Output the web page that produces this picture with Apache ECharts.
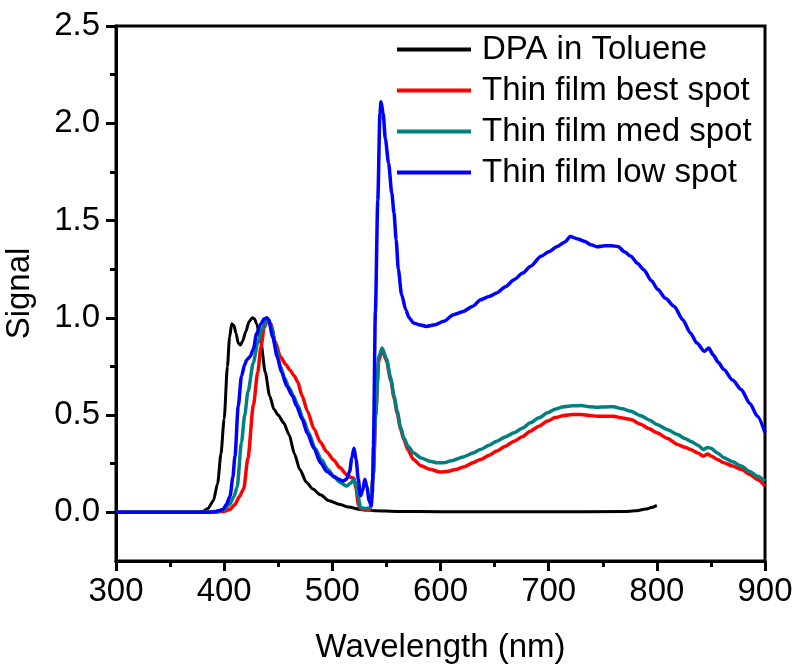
<!DOCTYPE html>
<html>
<head>
<meta charset="utf-8">
<script src="https://cdn.jsdelivr.net/npm/echarts@6/dist/echarts.min.js"></script>
<style>
    html, body { margin: 0; padding: 0; background: #fff; }
    #chart0 { width: 797px; height: 667px; }
</style>
</head>
<body>
<div id="chart0"></div>
<script>
// values
var seriesNames = ['DPA in Toluene', 'Thin film best spot', 'Thin film med spot', 'Thin film low spot'];
var seriesColors = ['#000000', '#ff0000', '#008080', '#0000ff'];

var dpaWl = [300, 370, 380, 385, 390, 394, 397, 400, 403, 405, 407, 409, 411, 413, 415, 417, 420, 423, 426, 428,
    430, 434, 438, 442, 446, 450, 455, 460, 465, 470, 476, 482, 489, 497, 507, 515, 526, 540, 560, 600,
    700, 770, 780, 790, 795, 800];
var dpaSig = [0, 0, 0.005, 0.02, 0.06, 0.15, 0.3, 0.48, 0.75, 0.9, 0.97, 0.96, 0.92, 0.87, 0.86, 0.88, 0.93, 0.98, 1.0, 0.995,
    0.97, 0.87, 0.72, 0.6, 0.53, 0.5, 0.46, 0.4, 0.3, 0.22, 0.155, 0.12, 0.09, 0.06, 0.04, 0.027, 0.015, 0.008, 0.005, 0.003,
    0.003, 0.004, 0.008, 0.017, 0.025, 0.036];

var bestWl = [300, 390, 400, 405, 410, 414, 418, 422, 427, 431, 434, 437, 440, 443, 447, 452, 457, 461, 465, 468,
    472, 477, 483, 489, 495, 501, 507, 513, 517, 520, 522, 524, 526, 530, 535, 538, 540, 543, 546, 550,
    554, 557, 560, 563, 566, 570, 575, 582, 590, 600, 606, 614, 622, 630, 637, 645, 652, 660, 668, 676,
    683, 691, 699, 706, 714, 722, 730, 738, 745, 752, 760, 768, 776, 785, 793, 800, 810, 819, 826, 831,
    838, 843, 847, 850, 856, 862, 870, 878, 886, 893, 900];
var bestSig = [0, 0, 0.005, 0.015, 0.04, 0.08, 0.12, 0.28, 0.55, 0.72, 0.85, 0.95, 0.99, 0.97, 0.88, 0.8, 0.76, 0.73, 0.7, 0.67,
    0.6, 0.52, 0.43, 0.36, 0.31, 0.27, 0.23, 0.195, 0.18, 0.175, 0.12, 0.04, 0.02, 0.012, 0.015, 0.2, 0.5, 0.78, 0.837, 0.78,
    0.68, 0.59, 0.51, 0.43, 0.375, 0.32, 0.272, 0.24, 0.221, 0.207, 0.21, 0.22, 0.235, 0.255, 0.272, 0.293, 0.315, 0.34, 0.366, 0.39,
    0.417, 0.443, 0.469, 0.487, 0.498, 0.503, 0.503, 0.498, 0.494, 0.494, 0.494, 0.485, 0.477, 0.453, 0.43, 0.409, 0.38, 0.349, 0.335, 0.323,
    0.305, 0.289, 0.3, 0.29, 0.272, 0.255, 0.238, 0.221, 0.195, 0.169, 0.135];

var medWl = [300, 388, 395, 400, 405, 409, 412, 416, 419, 422, 427, 431, 435, 439, 441, 444, 448, 452, 456, 460,
    464, 468, 473, 478, 484, 490, 496, 502, 507, 513, 517, 520, 522, 524, 526, 530, 535, 538, 540, 543,
    546, 550, 554, 557, 560, 563, 566, 570, 575, 582, 590, 597, 603, 610, 621, 630, 637, 645, 652, 660,
    668, 676, 683, 691, 699, 706, 714, 722, 730, 738, 745, 752, 760, 768, 776, 785, 793, 800, 810, 819,
    826, 831, 838, 843, 847, 850, 856, 862, 870, 878, 886, 893, 900];
var medSig = [0, 0, 0.005, 0.015, 0.04, 0.08, 0.13, 0.36, 0.5, 0.62, 0.77, 0.87, 0.94, 0.99, 0.99, 0.95, 0.84, 0.75, 0.69, 0.64,
    0.6, 0.55, 0.48, 0.41, 0.33, 0.27, 0.22, 0.18, 0.155, 0.135, 0.15, 0.169, 0.14, 0.08, 0.025, 0.02, 0.022, 0.2, 0.5, 0.8,
    0.845, 0.79, 0.69, 0.6, 0.52, 0.44, 0.385, 0.34, 0.306, 0.28, 0.263, 0.255, 0.255, 0.265, 0.285, 0.305, 0.323, 0.345, 0.366, 0.388,
    0.409, 0.434, 0.46, 0.486, 0.512, 0.53, 0.543, 0.548, 0.549, 0.543, 0.54, 0.542, 0.543, 0.532, 0.52, 0.497, 0.475, 0.452, 0.425, 0.4,
    0.38, 0.366, 0.345, 0.323, 0.333, 0.33, 0.305, 0.281, 0.26, 0.238, 0.21, 0.186, 0.161];

var lowWl = [300, 385, 392, 396, 399, 402, 405.5, 408, 410, 413, 416, 419, 421, 424, 427, 430, 434, 437, 439.5, 441,
    445, 449, 453, 458, 463, 467, 472, 477, 483, 489, 495, 501, 506, 510, 513, 516, 518, 520, 522, 524,
    526, 528, 530, 532, 534, 536, 537, 538, 539.8, 542, 544, 545, 547, 549, 552, 555, 557, 559, 561, 564,
    568, 571, 575, 580, 587, 595, 603, 612, 621, 630, 637, 645, 652, 660, 668, 676, 683, 693, 700, 708,
    715, 720, 727, 733, 739, 745, 752, 758, 764, 770, 776, 782, 788, 795, 801, 808, 816, 824, 831, 837,
    844, 848, 852, 857, 862, 870, 878, 886, 893, 900];
var lowSig = [0, 0, 0.005, 0.01, 0.015, 0.04, 0.084, 0.18, 0.29, 0.546, 0.7, 0.76, 0.785, 0.8, 0.84, 0.92, 0.97, 0.995, 1.0, 0.99,
    0.9, 0.8, 0.72, 0.648, 0.6, 0.546, 0.48, 0.405, 0.33, 0.255, 0.21, 0.186, 0.17, 0.161, 0.17, 0.21, 0.28, 0.33, 0.27, 0.17,
    0.085, 0.11, 0.17, 0.13, 0.06, 0.035, 0.1, 0.34, 1.03, 1.6, 2.05, 2.11, 2.05, 1.92, 1.795, 1.64, 1.54, 1.4, 1.25, 1.12,
    1.04, 1.0, 0.974, 0.965, 0.956, 0.965, 0.982, 1.016, 1.033, 1.06, 1.093, 1.11, 1.128, 1.16, 1.196, 1.23, 1.264, 1.316, 1.34, 1.367,
    1.39, 1.418, 1.405, 1.393, 1.376, 1.365, 1.37, 1.37, 1.367, 1.34, 1.316, 1.28, 1.247, 1.19, 1.145, 1.1, 1.059, 0.99, 0.922, 0.87,
    0.828, 0.845, 0.81, 0.77, 0.734, 0.68, 0.631, 0.56, 0.494, 0.41];

var yMajorTicks = [0, 0.5, 1.0, 1.5, 2.0, 2.5];
var yMinorTicks = [0.25, 0.75, 1.25, 1.75, 2.25];

var font = 'Liberation Sans, Arial, sans-serif';

function pairs(xs, ys) {
    var out = [];
    for (var i = 0; i < xs.length; i++) {
        out.push([xs[i], ys[i]]);
    }
    return out;
}

var allData = [pairs(dpaWl, dpaSig), pairs(bestWl, bestSig), pairs(medWl, medSig), pairs(lowWl, lowSig)];

var series = [];
for (var i = 0; i < seriesNames.length; i++) {
    series.push({
        name: seriesNames[i],
        type: 'line',
        data: allData[i],
        showSymbol: false,
        smooth: 0.25,
        smoothMonotone: 'x',
        lineStyle: {color: seriesColors[i], width: i === 0 ? 3 : 3.5},
        itemStyle: {color: seriesColors[i]}
    });
}

var option0 = {
    animation: false,
    backgroundColor: '#fff',
    grid: {
        left: 116,
        right: 32,
        top: 26,
        bottom: 106,
        outerBoundsMode: 'none',
        show: true,
        borderColor: '#000',
        borderWidth: 3
    },
    legend: {
        orient: 'vertical',
        left: 392,
        top: 28,
        icon: 'rect',
        itemWidth: 74,
        itemHeight: 4,
        itemGap: 8,
        textStyle: {fontFamily: font, fontSize: 33, color: '#000', padding: [0, 0, 0, 6]},
        data: seriesNames
    },
    xAxis: {
        type: 'value',
        min: 300,
        max: 900,
        interval: 100,
        name: 'Wavelength (nm)',
        nameLocation: 'middle',
        nameGap: 70,
        nameTextStyle: {fontFamily: font, fontSize: 33, color: '#000'},
        axisLine: {show: true, onZero: false, lineStyle: {color: '#000', width: 3}},
        axisTick: {show: true, inside: false, length: 10, lineStyle: {color: '#000', width: 3}},
        minorTick: {show: true, splitNumber: 2, length: 6, lineStyle: {color: '#000', width: 3}},
        axisLabel: {fontFamily: font, fontSize: 33, color: '#000', margin: 14},
        splitLine: {show: false}
    },
    yAxis: [
        {
            type: 'value',
            position: 'left',
            min: -0.25,
            max: 2.5,
            interval: 0.25,
            name: 'Signal',
            nameLocation: 'middle',
            nameGap: 80,
            nameTextStyle: {fontFamily: font, fontSize: 33, color: '#000'},
            axisLine: {show: true, onZero: false, lineStyle: {color: '#000', width: 3}},
            axisTick: {show: true, inside: false, length: 10, customValues: yMajorTicks, lineStyle: {color: '#000', width: 3}},
            axisLabel: {
                fontFamily: font, fontSize: 33, color: '#000', margin: 16,
                customValues: yMajorTicks,
                formatter: function (v) { return v.toFixed(1); }
            },
            splitLine: {show: false}
        },
        {
            // minor ticks only
            type: 'value',
            position: 'left',
            min: -0.25,
            max: 2.5,
            interval: 0.25,
            axisLine: {show: false, onZero: false},
            axisTick: {show: true, inside: false, length: 6, customValues: yMinorTicks, lineStyle: {color: '#000', width: 3}},
            axisLabel: {show: false},
            splitLine: {show: false}
        }
    ],
    series: series
};

var myChart0 = echarts.init(document.getElementById('chart0'));
myChart0.setOption(option0);
</script>
</body>
</html>
